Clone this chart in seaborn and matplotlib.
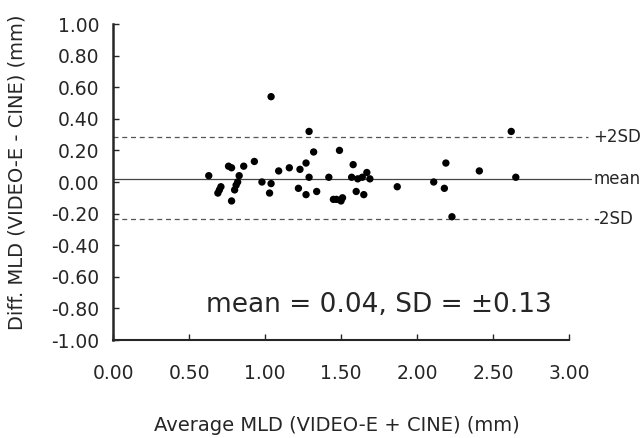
#!/usr/bin/env python3
"""
Bland-Altman plot: VIDEO-E vs CINE minimal lumen diameter
"""

import matplotlib
matplotlib.use('Agg')
import matplotlib.pyplot as plt
import seaborn as sns
import pandas as pd

# Average MLD (mm) and difference (mm)
avg_mld = [0.63, 0.71, 0.70, 0.69, 0.76, 0.78, 0.86, 0.93, 0.83, 0.82,
           0.81, 0.80, 0.78, 0.98, 1.04, 1.03, 1.09, 1.16, 1.04, 1.29,
           1.32, 1.27, 1.23, 1.29, 1.42, 1.49, 1.58, 1.57, 1.61, 1.64,
           1.67, 1.69, 1.22, 1.27, 1.34, 1.45, 1.47, 1.50, 1.51, 1.60,
           1.65, 1.87, 2.11, 2.18, 2.19, 2.23, 2.41, 2.62, 2.65]
diff_mld = [0.04, -0.03, -0.05, -0.07, 0.10, 0.09, 0.10, 0.13, 0.04, 0.00,
            -0.02, -0.05, -0.12, 0.00, -0.01, -0.07, 0.07, 0.09, 0.54, 0.32,
            0.19, 0.12, 0.08, 0.03, 0.03, 0.20, 0.11, 0.03, 0.02, 0.03,
            0.06, 0.02, -0.04, -0.08, -0.06, -0.11, -0.11, -0.12, -0.10, -0.06,
            -0.08, -0.03, 0.00, -0.04, 0.12, -0.22, 0.07, 0.32, 0.03]

mean_diff = 0.02
upper_2sd = 0.285
lower_2sd = -0.235

x_ticks = [0.0, 0.5, 1.0, 1.5, 2.0, 2.5, 3.0]
y_ticks = [1.0, 0.8, 0.6, 0.4, 0.2, 0.0, -0.2, -0.4, -0.6, -0.8, -1.0]

sns.set_style("ticks")
plt.rcParams['font.family'] = ['DejaVu Sans']

df = pd.DataFrame({'avg': avg_mld, 'diff': diff_mld})

fig = plt.figure(figsize=(6.44, 4.38), dpi=100)
ax = fig.add_axes([113 / 644, 1 - 340 / 438, 456 / 644, 316 / 438])

# Reference lines, running a little past the right end of the axis
ax.axhline(upper_2sd, xmax=1.042, color='#555555', lw=0.9,
           ls=(0, (4, 3)), clip_on=False)
ax.axhline(lower_2sd, xmax=1.042, color='#555555', lw=0.9,
           ls=(0, (4, 3)), clip_on=False)
ax.axhline(mean_diff, xmax=1.048, color='#444444', lw=0.9, clip_on=False)

sns.scatterplot(data=df, x='avg', y='diff', ax=ax, color='black', s=28,
                edgecolor='none', zorder=3)

# Line labels on the right
label_x = 1.053
for yval, txt in [(upper_2sd, '+2SD'), (mean_diff, 'mean'), (lower_2sd, '-2SD')]:
    ax.text(label_x, yval, txt, transform=ax.get_yaxis_transform(),
            va='center', ha='left', fontsize=12)

ax.text(1.75, -0.78, 'mean = 0.04, SD = \u00b10.13', ha='center', va='center',
        fontsize=19)

ax.set_xlim(0, 3.0)
ax.set_ylim(-1.0, 1.0)
ax.set_xticks(x_ticks)
ax.set_yticks(y_ticks)
ax.set_xticklabels([f'{t:.2f}' for t in x_ticks])
ax.set_yticklabels([f'{t:.2f}' for t in y_ticks])
ax.tick_params(axis='both', direction='in', length=4, width=1, labelsize=13.5)
ax.tick_params(axis='x', pad=17)
ax.tick_params(axis='y', pad=10)

sns.despine(ax=ax)
ax.spines['left'].set_linewidth(1.8)
ax.spines['bottom'].set_linewidth(1.5)

ax.set_xlabel('Average MLD (VIDEO-E + CINE) (mm)', fontsize=14)
ax.set_ylabel('Diff. MLD (VIDEO-E - CINE) (mm)', fontsize=14)
ax.xaxis.set_label_coords(0.49, -0.24)
ax.yaxis.set_label_coords(-0.19, 0.53)

plt.savefig('out.png', dpi=100)
plt.close()
